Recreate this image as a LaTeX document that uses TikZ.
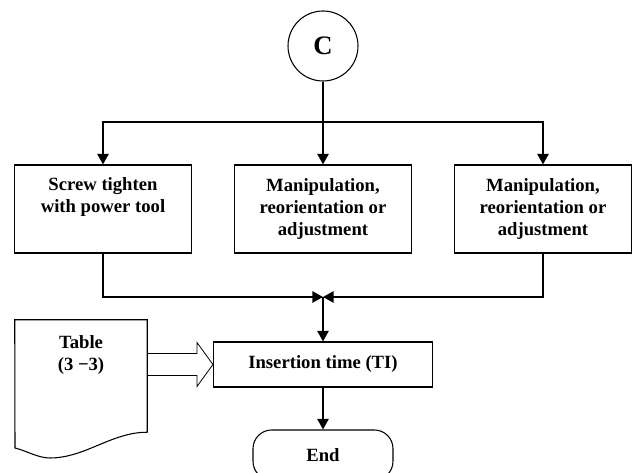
\documentclass[tikz,border=0pt]{standalone}
\usepackage{fontspec}
\setmainfont{Liberation Serif}
\usetikzlibrary{arrows.meta,calc}
\begin{document}
\begin{tikzpicture}[x=0.75pt,y=-0.75pt,
  every node/.style={font=\bfseries\fontsize{14}{16.5}\selectfont},
  outline/.style={draw,line width=0.8pt},
  box/.style={outline,minimum width=132.75pt,minimum height=66pt,inner sep=0pt,align=center},
  wire/.style={line width=1.5pt},
  conn/.style={wire,-{Triangle[length=8pt,width=8.5pt]}}]
\useasboundingbox (0,0) rectangle (637,473);

% start connector
\node[outline,circle,minimum size=52.5pt,inner sep=0pt,
      font=\bfseries\fontsize{20}{20}\selectfont] (C) at (323,46) {C};
\coordinate (bus) at (323,122);

% three parallel operations
\node[box] (b1) at (103,209) {Screw tighten\\with power tool\\\strut};
\node[box] (b2) at (323,209) {Manipulation,\\reorientation or\\adjustment};
\node[box] (b3) at (543,209) {Manipulation,\\reorientation or\\adjustment};

\draw[conn] (C.south) -- (b2.north);
\draw[conn] (C.south) -- (C.south |- bus) -| (b1.north);
\draw[conn] (C.south) -- (C.south |- bus) -| (b3.north);

% merge into insertion time
\coordinate (join) at (323,297);
\node[box,minimum width=164.25pt,minimum height=33.75pt] (ins) at (323,364.5) {Insertion time (TI)};
\draw[conn] (b1.south) |- (join);
\draw[conn] (b3.south) |- (join);
\draw[conn] (join) -- (ins.north);

% end terminator
\node[outline,rounded corners=14pt,minimum width=105pt,minimum height=37.5pt] (end) at (323,455) {End};
\draw[conn] (ins.south) -- (end.north);

% document shape with table reference
\node[minimum width=99pt,minimum height=84pt,inner sep=0pt] (doc) at (81,376) {};
\draw[line width=0.8pt] (doc.south east) -- (doc.north east) -- (doc.north west) -- (15,448)
  .. controls (27,451) and (38,458) .. (50,458)
  .. controls (85,458) and (112,432) .. (doc.south east);
\node[align=center,anchor=north] (dtxt) at ($(doc.north)+(0,11)$) {Table\\(3 −3)};

% hollow block arrow from the table to the insertion box
\path (ins.west) ++(-16,-22) coordinate (hT) ++(0,11) coordinate (sT)
      ++(0,22) coordinate (sB) ++(0,11) coordinate (hB);
\draw[line width=0.6pt] (doc.east |- sT) -- (sT) -- (hT) -- (ins.west) -- (hB) -- (sB) -- (doc.east |- sB);
\end{tikzpicture}
\end{document}
